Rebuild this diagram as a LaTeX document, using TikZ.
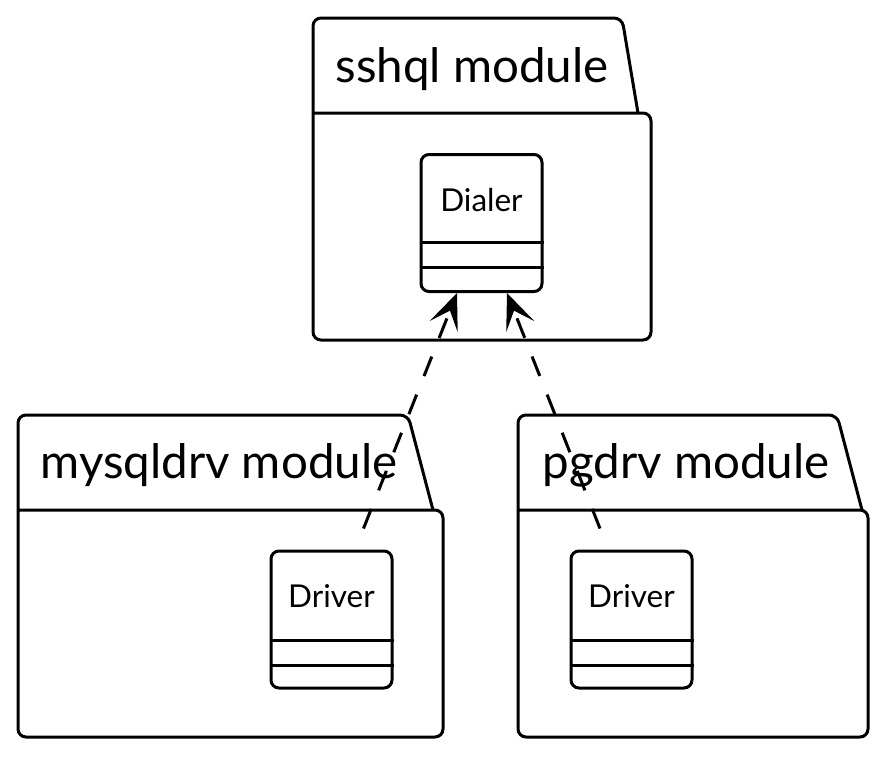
\documentclass[tikz,border=0pt]{standalone}
\usepackage{fontspec}
\setmainfont{Lato}
\usetikzlibrary{arrows.meta}
\begin{document}
\begin{tikzpicture}[x=1pt,y=-1pt,line width=3pt,
  pkg/.style={rounded corners=8pt},
  pkglabel/.style={inner sep=0pt,anchor=base west,font=\fontsize{47.5}{52}\selectfont},
  classbox/.style={draw,rounded corners=8pt,minimum width=121pt,minimum height=137pt,inner sep=0pt},
  classname/.style={inner sep=0pt,anchor=base,font=\fontsize{31.5}{34}\selectfont},
  dep/.style={dash pattern=on 21pt off 20pt,-{Stealth[length=36pt,width=30pt,inset=17pt]}}]
\useasboundingbox (0,0) rectangle (887,756);

% packages
\draw[pkg] (313,113) -- (651,113) -- (651,340) -- (313,340) -- (313,113);
\draw[pkg] (313,113) -- (313,18) -- (622,18) -- (638,113);
\node[pkglabel] (sshql) at (334,82) {sshql module};

\draw[pkg] (18,510) -- (443,510) -- (443,737) -- (18,737) -- (18,510);
\draw[pkg] (18,510) -- (18,415) -- (408,415) -- (433,510);
\node[pkglabel] (mysqldrv) at (39,478) {mysqldrv module};

\draw[pkg] (518,510) -- (868,510) -- (868,737) -- (518,737) -- (518,510);
\draw[pkg] (518,510) -- (518,415) -- (837,415) -- (862,510);
\node[pkglabel] (pgdrv) at (541,478) {pgdrv module};

% classes
\node[classbox] (dialer) at (481.5,223) {};
\node[classname] (dialerName) at (481.5,211) {Dialer};
\draw (dialer.west |- 0,242) -- (dialer.east |- 0,242);
\draw (dialer.west |- 0,267) -- (dialer.east |- 0,267);

\node[classbox] (drv1) at (331.5,619.5) {};
\node[classname] (drv1Name) at (331.5,607) {Driver};
\draw (drv1.west |- 0,640) -- (drv1.east |- 0,640);
\draw (drv1.west |- 0,665) -- (drv1.east |- 0,665);

\node[classbox] (drv2) at (631.5,619.5) {};
\node[classname] (drv2Name) at (631.5,607) {Driver};
\draw (drv2.west |- 0,640) -- (drv2.east |- 0,640);
\draw (drv2.west |- 0,665) -- (drv2.east |- 0,665);

% dependencies
\coordinate (drv1Out) at ([xshift=32pt,yshift=21pt]drv1.north);
\coordinate (drv2Out) at ([xshift=-31.5pt,yshift=21pt]drv2.north);
\draw[dep] (drv1Out) -- ([xshift=-24.5pt]dialer.south);
\draw[dep] (drv2Out) -- ([xshift=25.5pt]dialer.south);
\end{tikzpicture}
\end{document}
